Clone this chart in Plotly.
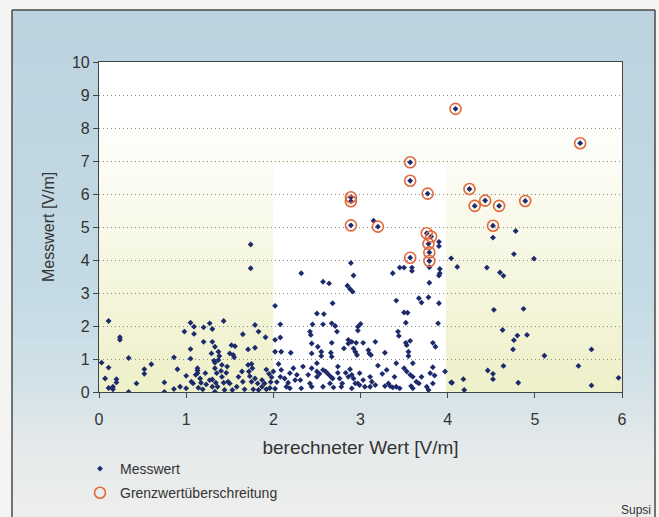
import plotly.graph_objects as go

# ---- data: measured vs computed field strength [V/m] ----
mess_x = [
    0.03, 0.11, 0.07, 0.11, 0.11, 0.16, 0.20, 0.20, 0.24, 0.24, 0.34, 0.34, 0.43, 0.52, 0.52, 0.60,
    0.75, 0.75, 0.86, 0.86, 0.90, 0.93, 0.98, 1.00, 1.00, 0.16,
    1.05, 1.05, 1.05, 1.09, 1.09, 1.20, 1.20, 1.27, 1.30, 1.30, 1.33, 1.37, 1.43, 1.52, 1.56, 1.50,
    1.54, 1.65, 1.71, 1.79, 1.79, 1.83, 1.91, 1.74, 1.74, 1.29, 1.32, 1.38, 1.37, 1.55,
    1.13, 1.13, 1.13, 1.11, 1.06, 1.08, 1.16, 1.17, 1.14, 1.19, 1.22, 1.23, 1.27, 1.33, 1.33, 1.35,
    1.30, 1.34, 1.30, 1.36, 1.33, 1.41, 1.40, 1.41, 1.43, 1.44, 1.46, 1.47, 1.48, 1.50, 1.53, 1.58,
    1.60, 1.64, 1.65, 1.67, 1.71, 1.75, 1.72, 1.76, 1.73, 1.75, 1.79, 1.82, 1.77, 1.83, 1.87, 1.87,
    1.90, 1.92, 1.95, 1.98, 1.96, 1.92, 1.97,
    2.02, 2.02, 2.02, 2.08, 2.08, 2.09,
    2.32, 2.57, 2.64, 2.85, 2.88, 2.91, 2.89, 2.92, 2.68, 2.50, 2.58, 2.67, 2.71, 2.57, 2.45, 3.00,
    2.97, 2.97, 2.73, 2.42, 2.43, 2.44, 2.51, 2.67, 2.86, 2.86, 2.90, 2.95, 2.20, 2.44, 2.55, 2.55,
    2.66, 2.67, 2.81, 2.92, 2.94, 2.96,
    3.15, 3.09, 3.10, 3.12, 3.03, 3.17, 3.28, 3.44, 3.52, 3.53, 3.57, 3.83, 3.86, 3.55, 3.55, 3.41,
    3.67, 3.70, 3.78, 3.90, 3.50, 3.54, 3.52, 3.89, 3.43, 3.79, 3.45, 3.50, 3.59, 3.37, 3.59, 3.79,
    3.91, 3.91, 3.90, 3.90, 3.90,
    2.09, 2.23, 2.34, 2.44, 2.08, 2.13, 2.19, 2.27, 2.31, 2.25, 2.40, 2.50, 2.50, 2.53, 2.57, 2.60,
    2.63, 2.66, 2.68, 2.74, 2.76, 2.74, 2.88, 2.90, 2.92, 2.94, 2.99, 2.15, 2.19, 2.32, 2.44, 2.57,
    2.69, 2.78, 2.90, 2.97, 2.50, 2.04, 2.02, 2.06, 2.00, 2.17, 2.42, 2.65, 2.79, 2.83, 2.86, 2.99,
    3.03, 3.05, 3.11, 3.13, 3.11, 3.30, 3.39, 3.28, 3.34, 3.37, 3.41, 3.45, 3.50, 3.53, 3.57, 3.60,
    3.64, 3.67, 3.70, 3.76, 3.78, 3.58, 3.60, 3.97, 4.04, 3.20, 3.25, 3.83, 3.85, 3.17, 3.32, 3.41,
    3.60, 3.80, 3.83,
    4.04, 4.11, 4.52, 4.78, 4.76, 4.99, 4.45, 4.60, 4.64, 4.53, 4.87, 4.63, 4.80, 4.91, 4.76, 4.75,
    5.11, 5.65, 4.64, 4.46, 4.52, 4.52, 5.50, 5.96, 5.65, 4.81, 4.18, 4.05, 4.19,
]
mess_y = [
    0.89, 2.15, 0.41, 0.74, 0.12, 0.16, 0.39, 0.29, 1.66, 1.58, 1.03, 0.00, 0.26, 0.69, 0.55, 0.84,
    0.29, 0.00, 1.05, 0.09, 0.69, 0.16, 1.83, 0.11, 0.49, 0.08,
    2.10, 1.30, 1.01, 1.98, 1.76, 1.96, 1.52, 2.08, 1.91, 1.52, 1.37, 1.22, 2.15, 1.42, 1.39, 1.17,
    1.12, 1.75, 1.29, 2.03, 1.34, 1.83, 1.66, 4.47, 3.75, 1.17, 0.95, 1.09, 0.97, 1.05,
    0.72, 0.65, 0.57, 0.52, 0.31, 0.26, 0.41, 0.28, 0.13, 0.08, 0.57, 0.23, 0.36, 0.89, 0.72, 0.57,
    0.38, 0.28, 0.16, 0.16, 0.01, 0.82, 0.64, 0.46, 0.28, 0.06, 0.58, 0.77, 0.31, 0.26, 0.06, 0.16,
    0.46, 0.62, 0.31, 0.08, 0.82, 0.85, 0.62, 0.72, 0.48, 0.31, 0.41, 0.26, 0.08, 0.06, 0.16, 0.36,
    0.26, 0.08, 0.55, 0.45, 0.12, 0.68, 0.30,
    2.61, 1.58, 1.22, 2.05, 1.65, 1.22,
    3.60, 3.34, 3.29, 3.22, 3.12, 3.04, 3.91, 3.53, 2.69, 2.38, 2.36, 2.08, 2.00, 2.05, 2.05, 2.06,
    1.98, 1.86, 1.83, 1.83, 1.73, 1.47, 1.37, 1.49, 1.58, 1.47, 1.52, 1.49, 1.19, 1.17, 1.22, 1.09,
    1.19, 1.07, 1.32, 1.32, 1.22, 1.12,
    5.19, 1.27, 1.17, 1.12, 1.49, 1.52, 1.19, 1.70, 1.49, 1.42, 1.55, 1.49, 1.37, 1.09, 1.22, 2.77,
    2.84, 2.71, 2.87, 2.69, 2.41, 2.40, 2.10, 2.08, 1.83, 3.31, 3.77, 3.77, 3.77, 3.60, 3.67, 3.78,
    3.73, 3.60, 3.53, 4.55, 4.42,
    0.67, 0.72, 0.77, 0.72, 0.46, 0.41, 0.57, 0.52, 0.36, 0.36, 0.52, 0.62, 0.46, 0.55, 0.67, 0.62,
    0.54, 0.46, 0.41, 0.58, 0.41, 0.77, 0.69, 0.52, 0.41, 0.26, 0.57, 0.16, 0.11, 0.11, 0.16, 0.16,
    0.14, 0.16, 0.11, 0.26, 0.87, 0.30, 0.10, 0.85, 0.62, 0.28, 0.26, 0.26, 0.26, 0.58, 0.46, 0.21,
    0.36, 0.16, 0.46, 0.31, 0.16, 0.67, 0.46, 0.18, 0.18, 0.14, 0.16, 0.11, 0.72, 0.62, 0.52, 0.46,
    0.31, 0.26, 0.46, 0.16, 0.06, 0.18, 0.11, 0.62, 0.29, 0.80, 0.55, 0.75, 0.50, 0.21, 0.26, 0.87,
    0.87, 0.57, 0.26,
    4.05, 3.79, 4.68, 4.88, 4.18, 4.04, 3.77, 3.62, 3.52, 2.49, 2.52, 1.88, 1.71, 1.73, 1.57, 1.29,
    1.10, 1.29, 0.79, 0.65, 0.55, 0.39, 0.79, 0.43, 0.20, 0.28, 0.39, 0.28, 0.06,
]

# points exceeding the limit value (also measured points)
grenz_x = [4.09, 5.52, 3.57, 3.57, 3.77, 4.25, 4.31, 4.43, 4.59, 4.89, 4.52,
           2.89, 2.89, 2.89, 3.20, 3.76, 3.81, 3.78, 3.79, 3.79, 3.57]
grenz_y = [8.58, 7.54, 6.96, 6.40, 6.01, 6.15, 5.64, 5.80, 5.64, 5.79, 5.04,
           5.90, 5.78, 5.05, 5.01, 4.81, 4.71, 4.49, 4.23, 3.97, 4.07]

x_ticks = [0, 1, 2, 3, 4, 5, 6]
y_ticks = [0, 1, 2, 3, 4, 5, 6, 7, 8, 9, 10]
x_title = "berechneter Wert [V/m]"
y_title = "Messwert [V/m]"
name_mess = "Messwert"
name_grenz = "Grenzwertüberschreitung"
source_text = "Supsi"

W, H = 659, 517
L, R, T, B = 99, 37, 62, 125
PW, PH = W - L - R, H - T - B


def px2x(px):
    return (px - L) / PW


def py2y(py):
    return (H - B - py) / PH


def lerp(c0, c1, t):
    return "rgb(%d,%d,%d)" % tuple(round(a + (b - a) * t) for a, b in zip(c0, c1))


shapes = []
# outer frame gradient (page pixels, vertical)
stops = [(10, (188, 211, 223)), (300, (196, 218, 228)), (390, (212, 226, 232)),
         (450, (230, 234, 235)), (517, (238, 238, 236))]
n = 60
for i in range(n):
    p0 = 10 + (517 - 10) * i / n
    p1 = 10 + (517 - 10) * (i + 1) / n
    pm = (p0 + p1) / 2
    for (a, ca), (b, cb) in zip(stops[:-1], stops[1:]):
        if a <= pm <= b:
            col = lerp(ca, cb, (pm - a) / (b - a))
            break
    shapes.append(dict(type="rect", xref="paper", yref="paper", layer="below",
                       x0=px2x(12), x1=px2x(655), y0=py2y(p1 + 0.5), y1=py2y(p0),
                       fillcolor=col, line=dict(width=0)))
# frame border lines
for (x0, y0, x1, y1) in [(12, 10, 12, 517), (12, 10, 655, 10), (655, 10, 655, 517)]:
    shapes.append(dict(type="line", xref="paper", yref="paper", layer="below",
                       x0=px2x(x0), y0=py2y(y0), x1=px2x(x1), y1=py2y(y1),
                       line=dict(color="#4a4a4a", width=1.5)))

# plot-area background (white, pale yellow gradient, white middle block)
shapes.append(dict(type="rect", xref="x", yref="y", layer="below",
                   x0=0, x1=6, y0=0, y1=10, fillcolor="white", line=dict(width=0)))
nb = 34
for i in range(nb):
    y0 = 8.5 * i / nb
    y1 = 8.5 * (i + 1) / nb
    col = lerp((238, 240, 200), (255, 255, 255), (i + 0.5) / nb)
    shapes.append(dict(type="rect", xref="x", yref="y", layer="below",
                       x0=0, x1=6, y0=y0, y1=y1 + 0.01, fillcolor=col, line=dict(width=0)))
shapes.append(dict(type="rect", xref="x", yref="y", layer="below",
                   x0=2.0, x1=3.98, y0=0, y1=6.9, fillcolor="white", line=dict(width=0)))

fig = go.Figure()
fig.add_trace(go.Scatter(
    x=mess_x + grenz_x, y=mess_y + grenz_y, mode="markers", name=name_mess,
    legendgroup="a",
    marker=dict(symbol="diamond", size=4.5, color="#1d2a6b", line=dict(width=0)),
))
fig.add_trace(go.Scatter(
    x=grenz_x, y=grenz_y, mode="markers", name=name_grenz, legendgroup="b",
    marker=dict(symbol="circle-open", size=11, color="#e0683c", line=dict(width=1.6)),
))

axis_font = dict(family="Liberation Sans, Arial, sans-serif", size=16, color="#333333")
fig.update_layout(
    width=W, height=H, autosize=False,
    margin=dict(l=L, r=R, t=T, b=B, pad=0, autoexpand=False),
    paper_bgcolor="#f4f4f2", plot_bgcolor="white",
    shapes=shapes,
    font=axis_font,
    showlegend=True,
    legend=dict(xref="container", yref="container", x=80 / W, xanchor="left",
                y=1 - 453 / H, yanchor="top",
                bgcolor="rgba(0,0,0,0)", font=dict(size=14, color="#333333",
                family="Liberation Sans, Arial, sans-serif"),
                tracegroupgap=3, traceorder="grouped", itemwidth=30),
    annotations=[
        dict(text=source_text, xref="paper", yref="paper", x=px2x(653), y=py2y(510),
             xanchor="right", yanchor="middle", showarrow=False,
             font=dict(size=12, color="#333333")),
        dict(text=y_title, xref="paper", yref="paper", x=px2x(48), y=0.5,
             xanchor="center", yanchor="middle", textangle=-90, showarrow=False,
             font=axis_font),
    ],
)
fig.update_xaxes(range=[0, 6], tickvals=x_ticks, ticks="outside", ticklen=5, tickcolor="#444",
                 showline=True, linecolor="#444", linewidth=1.2, mirror=True, showgrid=False,
                 zeroline=False, ticklabelstandoff=8,
                 title=dict(text=x_title, standoff=13), tickfont=axis_font)
fig.update_yaxes(range=[0, 10], tickvals=y_ticks, ticks="outside", ticklen=5, tickcolor="#444",
                 showline=True, linecolor="#444", linewidth=1.2, mirror=True, showgrid=True,
                 gridcolor="#8a8a8a", griddash="1px,3px", gridwidth=1, zeroline=False,
                 tickfont=axis_font)

fig.write_html("out.html", config={"displayModeBar": False},
               post_script="document.body.style.margin='0px';")
